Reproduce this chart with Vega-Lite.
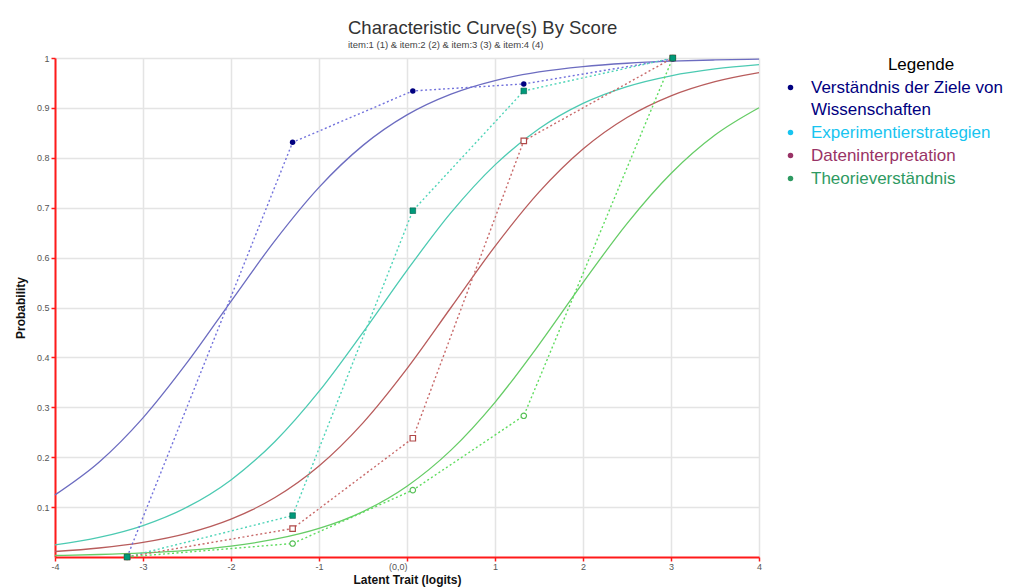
{
  "$schema": "https://vega.github.io/schema/vega-lite/v6.json",
  "width": 704,
  "height": 499,
  "autosize": {"type": "none"},
  "padding": {"left": 55, "top": 58, "right": 267, "bottom": 30},
  "background": "white",
  "config": {
    "font": "Liberation Sans",
    "view": {"stroke": null}
  },
  "title": {
    "text": "Characteristic Curve(s) By Score",
    "subtitle": "item:1 (1) & item:2 (2) & item:3 (3) & item:4 (4)",
    "anchor": "start",
    "frame": "group",
    "dx": 293,
    "offset": 3,
    "fontSize": 18.5,
    "fontWeight": "normal",
    "color": "#333333",
    "subtitleFontSize": 9.5,
    "subtitleColor": "#444444",
    "subtitlePadding": 3
  },
  "datasets": {
    "curves": [
      {"item": "i1", "theta": -4, "p": 0.1245}, {"item": "i1", "theta": -3.5, "p": 0.19}, {"item": "i1", "theta": -3, "p": 0.2789}, {"item": "i1", "theta": -2.5, "p": 0.3894}, {"item": "i1", "theta": -2, "p": 0.5125}, {"item": "i1", "theta": -1.5, "p": 0.6341}, {"item": "i1", "theta": -1, "p": 0.7408}, {"item": "i1", "theta": -0.5, "p": 0.8249}, {"item": "i1", "theta": 0, "p": 0.886}, {"item": "i1", "theta": 0.5, "p": 0.9276}, {"item": "i1", "theta": 1, "p": 0.9548}, {"item": "i1", "theta": 1.5, "p": 0.9721}, {"item": "i1", "theta": 2, "p": 0.9829}, {"item": "i1", "theta": 2.5, "p": 0.9895}, {"item": "i1", "theta": 3, "p": 0.9936}, {"item": "i1", "theta": 3.5, "p": 0.9961}, {"item": "i1", "theta": 4, "p": 0.9976},
      {"item": "i2", "theta": -4, "p": 0.0241}, {"item": "i2", "theta": -3.5, "p": 0.0392}, {"item": "i2", "theta": -3, "p": 0.063}, {"item": "i2", "theta": -2.5, "p": 0.0998}, {"item": "i2", "theta": -2, "p": 0.1545}, {"item": "i2", "theta": -1.5, "p": 0.2315}, {"item": "i2", "theta": -1, "p": 0.3318}, {"item": "i2", "theta": -0.5, "p": 0.4502}, {"item": "i2", "theta": 0, "p": 0.5744}, {"item": "i2", "theta": 0.5, "p": 0.69}, {"item": "i2", "theta": 1, "p": 0.7858}, {"item": "i2", "theta": 1.5, "p": 0.8581}, {"item": "i2", "theta": 2, "p": 0.9089}, {"item": "i2", "theta": 2.5, "p": 0.9427}, {"item": "i2", "theta": 3, "p": 0.9644}, {"item": "i2", "theta": 3.5, "p": 0.9781}, {"item": "i2", "theta": 4, "p": 0.9866},
      {"item": "i3", "theta": -4, "p": 0.011}, {"item": "i3", "theta": -3.5, "p": 0.018}, {"item": "i3", "theta": -3, "p": 0.0293}, {"item": "i3", "theta": -2.5, "p": 0.0474}, {"item": "i3", "theta": -2, "p": 0.0759}, {"item": "i3", "theta": -1.5, "p": 0.1192}, {"item": "i3", "theta": -1, "p": 0.1824}, {"item": "i3", "theta": -0.5, "p": 0.2689}, {"item": "i3", "theta": 0, "p": 0.3775}, {"item": "i3", "theta": 0.5, "p": 0.5}, {"item": "i3", "theta": 1, "p": 0.6225}, {"item": "i3", "theta": 1.5, "p": 0.7311}, {"item": "i3", "theta": 2, "p": 0.8176}, {"item": "i3", "theta": 2.5, "p": 0.8808}, {"item": "i3", "theta": 3, "p": 0.9241}, {"item": "i3", "theta": 3.5, "p": 0.9526}, {"item": "i3", "theta": 4, "p": 0.9707},
      {"item": "i4", "theta": -4, "p": 0.003}, {"item": "i4", "theta": -3.5, "p": 0.005}, {"item": "i4", "theta": -3, "p": 0.0082}, {"item": "i4", "theta": -2.5, "p": 0.0134}, {"item": "i4", "theta": -2, "p": 0.0219}, {"item": "i4", "theta": -1.5, "p": 0.0356}, {"item": "i4", "theta": -1, "p": 0.0573}, {"item": "i4", "theta": -0.5, "p": 0.0911}, {"item": "i4", "theta": 0, "p": 0.1419}, {"item": "i4", "theta": 0.5, "p": 0.2142}, {"item": "i4", "theta": 1, "p": 0.31}, {"item": "i4", "theta": 1.5, "p": 0.4256}, {"item": "i4", "theta": 2, "p": 0.5498}, {"item": "i4", "theta": 2.5, "p": 0.6682}, {"item": "i4", "theta": 3, "p": 0.7685}, {"item": "i4", "theta": 3.5, "p": 0.8455}, {"item": "i4", "theta": 4, "p": 0.9002}
    ],
    "observed": [
      {"item": "i1", "theta": -3.18, "p": 0.0}, {"item": "i1", "theta": -1.3, "p": 0.831}, {"item": "i1", "theta": 0.066, "p": 0.934}, {"item": "i1", "theta": 1.327, "p": 0.948}, {"item": "i1", "theta": 3.02, "p": 0.998},
      {"item": "i2", "theta": -3.18, "p": 0.0}, {"item": "i2", "theta": -1.3, "p": 0.083}, {"item": "i2", "theta": 0.066, "p": 0.694}, {"item": "i2", "theta": 1.327, "p": 0.934}, {"item": "i2", "theta": 3.02, "p": 1.0},
      {"item": "i3", "theta": -3.18, "p": 0.0}, {"item": "i3", "theta": -1.3, "p": 0.057}, {"item": "i3", "theta": 0.066, "p": 0.238}, {"item": "i3", "theta": 1.327, "p": 0.834}, {"item": "i3", "theta": 3.02, "p": 1.0},
      {"item": "i4", "theta": -3.18, "p": 0.0}, {"item": "i4", "theta": -1.3, "p": 0.027}, {"item": "i4", "theta": 0.066, "p": 0.134}, {"item": "i4", "theta": 1.327, "p": 0.283}, {"item": "i4", "theta": 3.02, "p": 1.0}
    ],
    "legend": [
      {"name": "Verständnis der Ziele von Wissenschaften"},
      {"name": "Experimentierstrategien"},
      {"name": "Dateninterpretation"},
      {"name": "Theorieverständnis"}
    ]
  },
  "resolve": {"scale": {"stroke": "independent"}},
  "layer": [
    {
      "data": {"name": "curves"},
      "mark": {"type": "line", "interpolate": "monotone", "strokeWidth": 1.3},
      "encoding": {
        "x": {
          "field": "theta",
          "type": "quantitative",
          "scale": {"domain": [-4, 4], "nice": false, "zero": false},
          "axis": {
            "values": [-4, -3, -2, -1, 0, 1, 2, 3, 4],
            "labelExpr": "datum.value == 0 ? '(0,0)' : toString(datum.value)",
            "labelAlign": {"condition": {"test": "datum.value == 0", "value": "right"}, "value": "center"},
            "domainColor": "#ff1a1a",
            "domainWidth": 2,
            "tickColor": "#ff1a1a",
            "tickSize": 4,
            "tickWidth": 1.5,
            "labelColor": "#555555",
            "labelFontSize": 9,
            "labelPadding": 1,
            "gridColor": "#e4e4e4",
            "gridWidth": 1.5,
            "title": "Latent Trait (logits)",
            "titleFontSize": 12,
            "titleFontWeight": "bold",
            "titleColor": "#111111",
            "titleBaseline": "top",
            "titleY": 17
          }
        },
        "y": {
          "field": "p",
          "type": "quantitative",
          "scale": {"domain": [0, 1], "nice": false},
          "axis": {
            "values": [0.1, 0.2, 0.3, 0.4, 0.5, 0.6, 0.7, 0.8, 0.9, 1],
            "labelExpr": "toString(datum.value)",
            "domainColor": "#ff1a1a",
            "domainWidth": 2,
            "tickColor": "#ff1a1a",
            "tickSize": 4,
            "tickWidth": 1.5,
            "labelColor": "#555555",
            "labelFontSize": 9,
            "labelPadding": 2,
            "gridColor": "#e4e4e4",
            "gridWidth": 1.5,
            "title": "Probability",
            "titleFontSize": 12,
            "titleFontWeight": "bold",
            "titleColor": "#111111",
            "titleAngle": 270,
            "titleAlign": "center",
            "titleBaseline": "bottom",
            "titleX": -28,
            "titleY": 249.5
          }
        },
        "stroke": {
          "field": "item",
          "type": "nominal",
          "scale": {"domain": ["i1", "i2", "i3", "i4"], "range": ["#6c6cc0", "#4ccab2", "#b85c5c", "#66cc66"]},
          "legend": null
        }
      }
    },
    {
      "data": {"name": "observed"},
      "mark": {"type": "line", "strokeWidth": 1.4, "strokeDash": [2, 2.5]},
      "encoding": {
        "x": {"field": "theta", "type": "quantitative"},
        "y": {"field": "p", "type": "quantitative"},
        "stroke": {
          "field": "item",
          "type": "nominal",
          "scale": {"domain": ["i1", "i2", "i3", "i4"], "range": ["#7272dc", "#4fd4b8", "#c86a6a", "#5fdc5f"]},
          "legend": null
        }
      }
    },
    {
      "data": {"name": "observed"},
      "transform": [{"filter": "datum.item == 'i1'"}],
      "mark": {"type": "point", "shape": "circle", "filled": true, "size": 30, "color": "#000080", "opacity": 1},
      "encoding": {
        "x": {"field": "theta", "type": "quantitative"},
        "y": {"field": "p", "type": "quantitative"}
      }
    },
    {
      "data": {"name": "observed"},
      "transform": [{"filter": "datum.item == 'i3'"}],
      "mark": {"type": "point", "shape": "square", "filled": true, "size": 30, "fill": "white", "stroke": "#b04848", "strokeWidth": 1.2, "opacity": 1},
      "encoding": {
        "x": {"field": "theta", "type": "quantitative"},
        "y": {"field": "p", "type": "quantitative"}
      }
    },
    {
      "data": {"name": "observed"},
      "transform": [{"filter": "datum.item == 'i4'"}],
      "mark": {"type": "point", "shape": "circle", "filled": true, "size": 30, "fill": "white", "stroke": "#55c055", "strokeWidth": 1.2, "opacity": 1},
      "encoding": {
        "x": {"field": "theta", "type": "quantitative"},
        "y": {"field": "p", "type": "quantitative"}
      }
    },
    {
      "data": {"name": "observed"},
      "transform": [{"filter": "datum.item == 'i2'"}],
      "mark": {"type": "point", "shape": "square", "filled": true, "size": 32, "fill": "#00997a", "stroke": "#005f4a", "strokeWidth": 0.6, "opacity": 1},
      "encoding": {
        "x": {"field": "theta", "type": "quantitative"},
        "y": {"field": "p", "type": "quantitative"}
      }
    },
    {
      "data": {"name": "legend"},
      "mark": {"type": "point", "filled": true, "shape": "circle", "opacity": 0},
      "encoding": {
        "color": {
          "field": "name",
          "type": "nominal",
          "scale": {
            "domain": ["Verständnis der Ziele von Wissenschaften", "Experimentierstrategien", "Dateninterpretation", "Theorieverständnis"],
            "range": ["#000080", "#17c4f0", "#993366", "#2e9a62"]
          },
          "legend": {
            "orient": "none",
            "legendX": 727,
            "legendY": -1,
            "padding": 0,
            "title": "Legende",
            "titleFontSize": 17,
            "titleFontWeight": "normal",
            "titleColor": "#000000",
            "titleAnchor": "middle",
            "titlePadding": 5,
            "symbolType": "circle",
            "symbolSize": 30,
            "symbolOpacity": 1,
            "symbolStrokeWidth": 0,
            "labelFontSize": 17,
            "labelOffset": 12,
            "labelLimit": 400,
            "rowPadding": 5,
            "labelExpr": "datum.label == 'Verständnis der Ziele von Wissenschaften' ? ['Verständnis der Ziele von', 'Wissenschaften'] : datum.label",
            "encode": {
              "labels": {"update": {"fill": {"scale": "color", "field": "value"}, "lineHeight": {"value": 22}}},
              "title": {"update": {"dx": {"value": 29}}}
            }
          }
        }
      }
    }
  ]
}
